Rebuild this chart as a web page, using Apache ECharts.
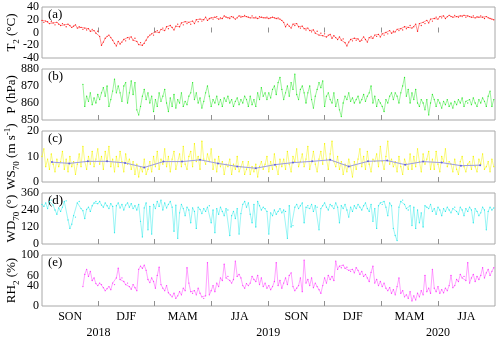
<!DOCTYPE html>
<html>
<head>
<meta charset="utf-8">
<script src="https://cdn.jsdelivr.net/npm/echarts@6.0.0/dist/echarts.min.js"></script>
<style>
    html, body { margin: 0; padding: 0; background: #fff; }
    #main { width: 500px; height: 340px; }
</style>
</head>
<body>
<div id="main"></div>
<script>
// days are counted from 2018-09-01, one reading every 3 days
var step = 3;

// T2 (°C), from day 0
var t2Start = 0;
var t2 = [
    19, 16, 18, 17, 14, 17, 15, 12, 16, 13,
    11, 14, 12, 9, 13, 11, 8, 10, 12, 7,
    9, 8, 5, 7, 4, 6, 2, 5, 3, -1,
    2, -6, -20, -15, -9, -6, -4, -8, -12, -17,
    -21, -14, -18, -15, -11, -13, -8, -10, -7, -12,
    -9, -14, -19, -16, -20, -17, -12, -7, -4, -2,
    -4, 1, 3, 0, 5, 7, 3, 9, 6, 11,
    8, 4, 10, 13, 9, 15, 12, 17, 14, 16,
    13, 18, 14, 20, 17, 21, 18, 20, 24, 19,
    22, 23, 21, 24, 25, 21, 23, 22, 26, 24,
    23, 22, 25, 24, 21, 23, 26, 24, 25, 27,
    25, 24, 23, 26, 23, 24, 22, 25, 24, 23,
    23, 24, 22, 23, 24, 23, 22, 23, 21, 19,
    16, 9, 13, 10, 7, 13, 11, 14, 9, 7,
    10, 6, 4, 7, 3, 1, 4, -1, 2, -4,
    -1, -5, -2, -7, -4, -3, -9, -5, -8, -11,
    -7, -12, -10, -16, -21, -15, -11, -13, -9, -12,
    -10, -14, -12, -7, -11, -15, -8, -6, -9, -4,
    -6, -3, -7, -2, -4, 0, -2, 3, -1, 2,
    1, 5, 3, 6, 4, 9, 6, 8, 11, 7,
    9, 13, 2, 14, 11, 16, 14, 19, 15, 21,
    18, 22, 24, 21, 25, 23, 26, 22, 25, 27,
    25, 24, 27, 25, 24, 26, 25, 27, 24, 26,
    25, 24, 26, 23, 25, 24, 26, 24, 22, 25,
    23, 22, 21, 20
];

// P (hPa), from day 66
var pStart = 66;
var pres = [
    871, 858, 864, 861, 866, 859, 863, 860, 865, 862,
    866, 869, 864, 870, 858, 862, 867, 874, 866, 870,
    866, 861, 870, 872, 860, 866, 873, 865, 872, 856,
    853, 858, 864, 868, 862, 866, 860, 864, 855, 862,
    858, 866, 861, 864, 868, 860, 855, 863, 858, 865,
    857, 862, 860, 866, 858, 861, 859, 864, 866, 872,
    862, 866, 860, 863, 857, 861, 866, 870, 864, 858,
    862, 860, 864, 859, 862, 858, 863, 861, 864, 860,
    862, 858, 861, 863, 859, 862, 860, 864, 862, 858,
    864, 859, 862, 858, 866, 862, 869, 864, 866, 862,
    866, 863, 868, 870, 865, 872, 875, 868, 862, 866,
    870, 864, 872, 868, 877, 865, 862, 868, 870, 866,
    860, 866, 870, 862, 857, 864, 868, 872, 869, 873,
    858, 864, 866, 862, 860, 866, 858, 862, 856, 852,
    860, 864, 862, 866, 861, 863, 860, 862, 864, 860,
    862, 865, 861, 864, 866, 870, 860, 864, 858, 862,
    860, 858, 855, 862, 860, 864, 866, 862, 866, 864,
    860, 866, 870, 875, 864, 868, 860, 866, 862, 868,
    860, 858, 862, 860, 856, 862, 853, 860, 865, 862,
    858, 862, 860, 857, 861, 859, 862, 858, 860, 857,
    861, 859, 862, 860, 863, 858, 861, 860, 862, 859,
    863, 860, 858, 862, 860, 863, 861, 858, 864, 867,
    858, 862
];

// WS70 (m s-1), from day 0
var wsStart = 0;
var ws = [
    10, 13, 6, 9, 5, 11, 7, 4, 9, 6,
    8, 12, 5, 9, 4, 10, 6, 8, 3, 7,
    11, 6, 14, 8, 5, 10, 7, 12, 6, 9,
    13, 7, 10, 5, 12, 8, 14, 6, 9, 4,
    10, 6, 12, 8, 4, 11, 7, 9, 5, 8,
    3, 7, 2, 6, 4, 9, 3, 5, 8, 4,
    10, 6, 12, 5, 9, 7, 13, 6, 10, 4,
    9, 12, 5, 8, 11, 6, 14, 7, 5, 10,
    12, 6, 15, 8, 10, 5, 16, 9, 7, 11,
    8, 13, 5, 9, 4, 10, 6, 8, 3, 7,
    6, 9, 3, 7, 5, 10, 4, 6, 8, 3,
    5, 8, 3, 6, 4, 7, 2, 6, 8, 5,
    7, 10, 4, 8, 5, 11, 6, 3, 9, 6,
    9, 5, 12, 7, 4, 10, 8, 13, 6, 8,
    11, 6, 9, 14, 5, 8, 12, 7, 4, 9,
    12, 7, 15, 9, 5, 11, 16, 8, 6, 10,
    5, 8, 3, 7, 4, 9, 6, 2, 8, 5,
    9, 13, 6, 10, 5, 12, 7, 4, 9, 8,
    11, 6, 14, 8, 5, 10, 16, 7, 9, 6,
    8, 4, 10, 6, 3, 9, 7, 5, 11, 5,
    10, 6, 13, 8, 4, 11, 7, 9, 12, 5,
    9, 5, 12, 7, 4, 10, 8, 13, 6, 8,
    7, 4, 9, 5, 3, 8, 10, 6, 4, 7,
    8, 5, 10, 6, 4, 9, 7, 11, 5, 6,
    8, 4, 9, 6
];

// monthly means of WS70
var wsMeanDays = [16, 44, 74, 105, 134, 165, 196, 226, 255, 284, 315, 345,
    376, 405, 436, 465, 495, 526, 557, 586, 615, 645, 676, 707];
var wsMean = [7.8, 7.3, 8.1, 8.1, 7.5, 5.7, 8.0, 8.0, 8.7, 7.3, 6.1, 5.4,
    6.8, 7.6, 8.1, 8.7, 6.1, 8.1, 8.4, 6.8, 8.0, 7.6, 6.4, 6.6];

// WD70 (°), from day 0
var wdStart = 0;
var wd = [
    280, 265, 290, 250, 300, 310, 275, 240, 210, 255,
    230, 260, 300, 305, 170, 110, 140, 200, 190, 290,
    300, 250, 235, 180, 245, 260, 230, 270, 290, 300,
    285, 300, 275, 260, 290, 270, 250, 285, 265, 80,
    270, 290, 255, 280, 240, 275, 290, 260, 285, 250,
    270, 240, 280, 160, 50, 255, 290, 100, 265, 70,
    280, 250, 300, 265, 310, 240, 290, 255, 280, 300,
    260, 90, 275, 40, 220, 280, 250, 200, 260, 240,
    150, 255, 230, 110, 260, 245, 215, 250, 230, 260,
    270, 150, 240, 80, 250, 210, 260, 230, 200, 250,
    240, 60, 200, 230, 180, 250, 70, 215, 280, 300,
    260, 290, 210, 150, 280, 120, 300, 270, 240, 260,
    250, 230, 70, 220, 200, 240, 210, 230, 250, 220,
    240, 230, 40, 270, 120, 130, 260, 280, 250, 270,
    290, 150, 260, 270, 250, 280, 230, 270, 260, 100,
    250, 270, 290, 260, 240, 280, 270, 250, 290, 260,
    150, 270, 250, 280, 240, 190, 260, 230, 270, 250,
    280, 260, 240, 270, 290, 250, 230, 280, 160, 250,
    110, 270, 290, 280, 300, 260, 200, 290, 270, 110,
    60, 24, 260, 300, 310, 280, 250, 240, 270, 130,
    260, 110, 240, 150, 220, 120, 270, 260, 250, 280,
    230, 250, 210, 260, 240, 200, 250, 230, 260, 240,
    220, 250, 260, 230, 210, 260, 240, 200, 250, 230,
    260, 240, 150, 250, 230, 200, 220, 260, 240, 100,
    230, 260, 240, 255
];

// RH2 (%), from day 66
var rhStart = 66;
var rh = [
    38, 62, 72, 58, 68, 50, 55, 44, 40, 45,
    42, 36, 30, 34, 38, 32, 45, 42, 55, 74,
    52, 55, 48, 42, 45, 38, 33, 42, 36, 30,
    72, 78, 74, 80, 70, 52, 46, 55, 48, 35,
    60, 76, 42, 35, 30, 40, 26, 22, 18, 25,
    15, 20, 28, 22, 35, 30, 75, 45, 28, 25,
    30, 22, 35, 25, 18, 15, 20, 85, 22, 30,
    40, 28, 45, 38, 55, 50, 82, 55, 58, 50,
    45, 52, 88, 58, 62, 55, 40, 35, 44, 40,
    45, 58, 52, 48, 60, 42, 55, 38, 45, 35,
    40, 32, 38, 48, 85, 40, 50, 35, 45, 55,
    42, 60, 65, 38, 30, 35, 40, 55, 28, 90,
    45, 52, 40, 55, 36, 45, 38, 32, 25, 40,
    55, 45, 60, 52, 58, 50, 88, 72, 78, 75,
    80, 74, 76, 70, 68, 72, 65, 75, 70, 62,
    68, 58, 62, 55, 48, 66, 78, 45, 52, 40,
    48, 38, 45, 35, 30, 36, 25, 32, 22, 38,
    55, 25, 30, 18, 22, 15, 28, 10, 20, 12,
    25, 18, 30, 22, 60, 28, 35, 25, 72, 35,
    28, 38, 25, 32, 26, 35, 30, 40, 60, 36,
    40, 52, 48, 62, 55, 58, 50, 85, 45, 55,
    62, 48, 58, 52, 60, 75, 55, 65, 72, 60,
    68, 75
];

// season edges (days) and labels
var seasonEdges = [0, 91, 181, 273, 365, 456, 547, 639, 731];
var seasonNames = ['SON', 'DJF', 'MAM', 'JJA', 'SON', 'DJF', 'MAM', 'JJA'];
var yearDays = [91, 365, 639];
var yearNames = ['2018', '2019', '2020'];

var font = 'Liberation Serif';

function pairs(start, vals) {
    var out = [];
    for (var i = 0; i < vals.length; i++) {
        out.push([start + i * step, vals[i]]);
    }
    return out;
}

var seasonMids = [];
for (var k = 0; k < seasonNames.length; k++) {
    seasonMids.push((seasonEdges[k] + seasonEdges[k + 1]) / 2);
}

var chart = echarts.init(document.getElementById('main'));

var grids = [], xAxes = [], yAxes = [], texts = [];
var panelNames = ['(a)', '(b)', '(c)', '(d)', '(e)'];
var yCfg = [
    {min: -40, max: 40, interval: 20, name: '{n|T}{s|2}{n| (°C)}'},
    {min: 850, max: 880, interval: 10, name: '{n|P (hPa)}'},
    {min: 0, max: 20, interval: 10, name: '{n|WS}{s|70}{n| (m s}{p|-1}{n|)}'},
    {min: 0, max: 360, interval: 120, name: '{n|WD}{s|70}{n| (°)}'},
    {min: 0, max: 100, interval: 20, name: '{n|RH}{s|2}{n| (%)}'}
];
var nameRich = {
    n: {fontSize: 13, lineHeight: 18, fontFamily: font, fill: '#000'},
    s: {fontSize: 9, lineHeight: 9, verticalAlign: 'bottom', fontFamily: font, fill: '#000'},
    p: {fontSize: 9, lineHeight: 9, verticalAlign: 'top', fontFamily: font, fill: '#000'}
};

for (var i = 0; i < 5; i++) {
    var panelTop = 7 + 62 * i;
    grids.push({
        left: 42, right: 5, top: panelTop, height: 51,
        show: true, borderColor: '#a8a8a8', borderWidth: 1
    });
    xAxes.push({
        type: 'value', gridIndex: i, min: 0, max: 731,
        axisLine: {show: false},
        splitLine: {show: false},
        axisTick: {
            show: true, inside: true, length: 5,
            customValues: seasonEdges.slice(1, -1),
            lineStyle: {color: '#909090'}
        },
        axisLabel: {
            show: i === 4,
            customValues: seasonMids,
            margin: 5,
            fontSize: 12, fontFamily: font, color: '#000',
            formatter: function (v) {
                var idx = seasonMids.indexOf(v);
                return idx >= 0 ? seasonNames[idx] : '';
            }
        }
    });
    yAxes.push({
        type: 'value', gridIndex: i,
        min: yCfg[i].min, max: yCfg[i].max, interval: yCfg[i].interval,
        axisLine: {show: false},
        axisTick: {show: false},
        splitLine: {show: false},
        axisLabel: {
            margin: 3, fontSize: 12, fontFamily: font, color: '#000',
            showMinLabel: true, showMaxLabel: true, hideOverlap: false
        }
    });
    // panel letter
    texts.push({
        type: 'text', x: 48, y: panelTop + 1,
        style: {text: panelNames[i], font: '13px "Liberation Serif"', fill: '#000'}
    });
    // y title, rotated
    texts.push({
        type: 'text', x: 12, y: panelTop + 25.5, rotation: Math.PI / 2,
        style: {
            text: yCfg[i].name, rich: nameRich,
            align: 'center', verticalAlign: 'middle'
        }
    });
}

function lineSeries(idx, data, color) {
    return {
        type: 'line', xAxisIndex: idx, yAxisIndex: idx,
        data: data,
        symbol: 'circle', symbolSize: 1.3, showSymbol: true,
        itemStyle: {color: color},
        lineStyle: {color: color, width: 0.8, opacity: 0.6}
    };
}

var option = {
    animation: false,
    backgroundColor: '#fff',
    grid: grids,
    xAxis: xAxes,
    yAxis: yAxes,
    graphic: texts,
    series: [
        lineSeries(0, pairs(t2Start, t2), '#ff1a1a'),
        lineSeries(1, pairs(pStart, pres), '#2ee82e'),
        lineSeries(2, pairs(wsStart, ws), '#f5f500'),
        {
            type: 'line', xAxisIndex: 2, yAxisIndex: 2, z: 5,
            data: wsMeanDays.map(function (d, j) { return [d, wsMean[j]]; }),
            symbol: 'circle', symbolSize: 2,
            itemStyle: {color: '#6060e0'},
            lineStyle: {color: '#9a9ae6', width: 1}
        },
        lineSeries(3, pairs(wdStart, wd), '#2eeaea'),
        lineSeries(4, pairs(rhStart, rh), '#ff3dff')
    ]
};
chart.setOption(option);

// years under the season labels, placed through the bottom x axis
for (var y = 0; y < yearDays.length; y++) {
    var px = chart.convertToPixel({xAxisIndex: 4}, yearDays[y]);
    texts.push({
        type: 'text', x: px, y: 333,
        style: {
            text: yearNames[y], font: '12px "Liberation Serif"', fill: '#000',
            align: 'center', verticalAlign: 'middle'
        }
    });
}
chart.setOption({graphic: texts});
</script>
</body>
</html>
